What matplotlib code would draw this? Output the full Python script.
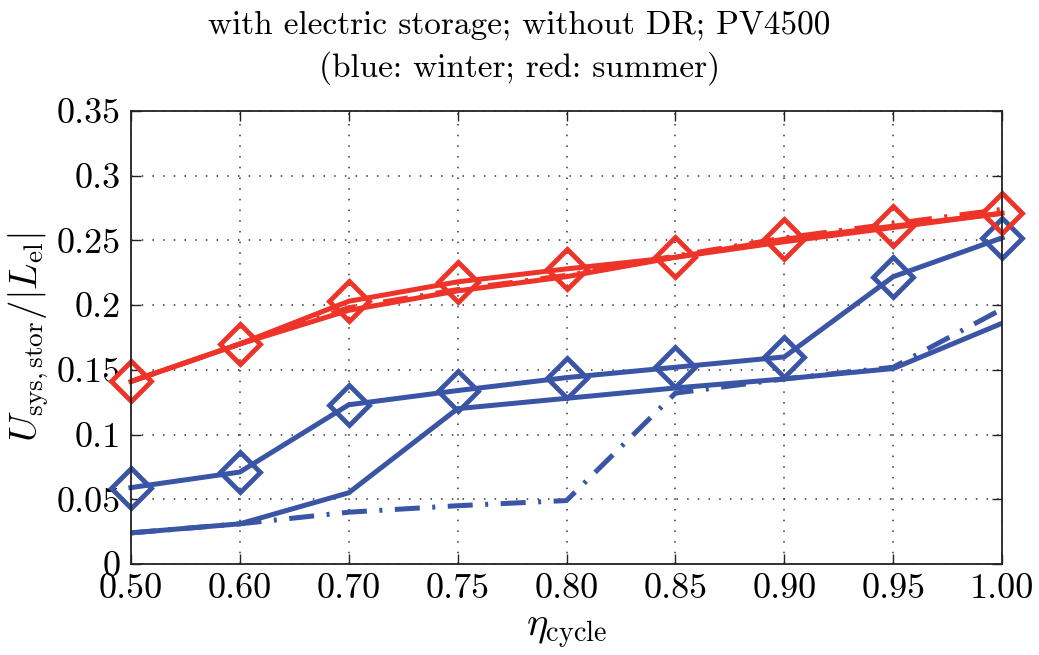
import matplotlib
matplotlib.use('Agg')
import matplotlib.pyplot as plt

plt.rcParams['font.family'] = ['cmr10', 'DejaVu Serif']
plt.rcParams['mathtext.fontset'] = 'cm'
plt.rcParams['axes.unicode_minus'] = False

# efficiency levels (plotted at equal spacing)
eta_labels = ['0.50', '0.60', '0.70', '0.75', '0.80', '0.85', '0.90', '0.95', '1.00']

# summer (red)
red_diamond = [0.141, 0.170, 0.203, 0.218, 0.228, 0.237, 0.251, 0.261, 0.271]
red_solid = [0.141, 0.170, 0.196, 0.211, 0.222, 0.237, 0.249, 0.260, 0.271]
red_dashdot = [0.141, 0.170, 0.198, 0.212, 0.223, 0.238, 0.252, 0.263, 0.274]

# winter (blue)
blue_diamond = [0.059, 0.071, 0.123, 0.134, 0.144, 0.152, 0.160, 0.222, 0.252]
blue_solid = [0.024, 0.031, 0.055, 0.120, 0.128, 0.136, 0.143, 0.151, 0.186]
blue_dashdot = [0.024, 0.031, 0.040, 0.045, 0.049, 0.132, 0.143, 0.152, 0.197]

yticks = [0, 0.05, 0.1, 0.15, 0.2, 0.25, 0.3, 0.35]
ytick_labels = ['0', '0.05', '0.1', '0.15', '0.2', '0.25', '0.3', '0.35']

red = '#ee3329'
blue = '#3a55a6'

fig = plt.figure(figsize=(10.39, 6.55), dpi=100)
ax = fig.add_axes([0.126, 0.139, 0.8385, 0.6915])

x = list(range(len(eta_labels)))
lw = 3.6
dashdot = (0, (5, 2.5, 0.6, 2.5))

ax.plot(x, blue_dashdot, color=blue, lw=lw, ls=dashdot)
ax.plot(x, blue_solid, color=blue, lw=lw)
ax.plot(x, blue_diamond, color=blue, lw=lw, marker='D', ms=20.5,
        mfc='none', mec=blue, mew=3.5, clip_on=False)

ax.plot(x, red_dashdot, color=red, lw=lw, ls=dashdot)
ax.plot(x, red_solid, color=red, lw=lw)
ax.plot(x, red_diamond, color=red, lw=lw, marker='D', ms=20.5,
        mfc='none', mec=red, mew=3.5, clip_on=False)

ax.set_xlim(0, len(eta_labels) - 1)
ax.set_ylim(0, 0.35)
ax.set_xticks(x)
ax.set_xticklabels(eta_labels)
ax.set_yticks(yticks)
ax.set_yticklabels(ytick_labels)

ax.tick_params(direction='in', length=7, width=1, top=True, right=True,
               labelsize=26, pad=7, color='#222222')
ax.grid(True, ls=(0, (1, 6)), color='#333333', lw=1.1)
for s in ax.spines.values():
    s.set_linewidth(1.3)
    s.set_color('#222222')

ax.set_xlabel(r'$\eta_{\mathrm{cycle}}$', fontsize=29, labelpad=7)
ax.set_ylabel(r'$U_{\mathrm{sys,stor}}/|L_{\mathrm{el}}|$', fontsize=28, labelpad=4)

fig.text(0.5, 0.962, 'with electric storage; without DR; PV4500',
         ha='center', va='center', fontsize=24)
fig.text(0.5, 0.896, '(blue: winter; red: summer)',
         ha='center', va='center', fontsize=24)

fig.savefig('out.png', dpi=100)
